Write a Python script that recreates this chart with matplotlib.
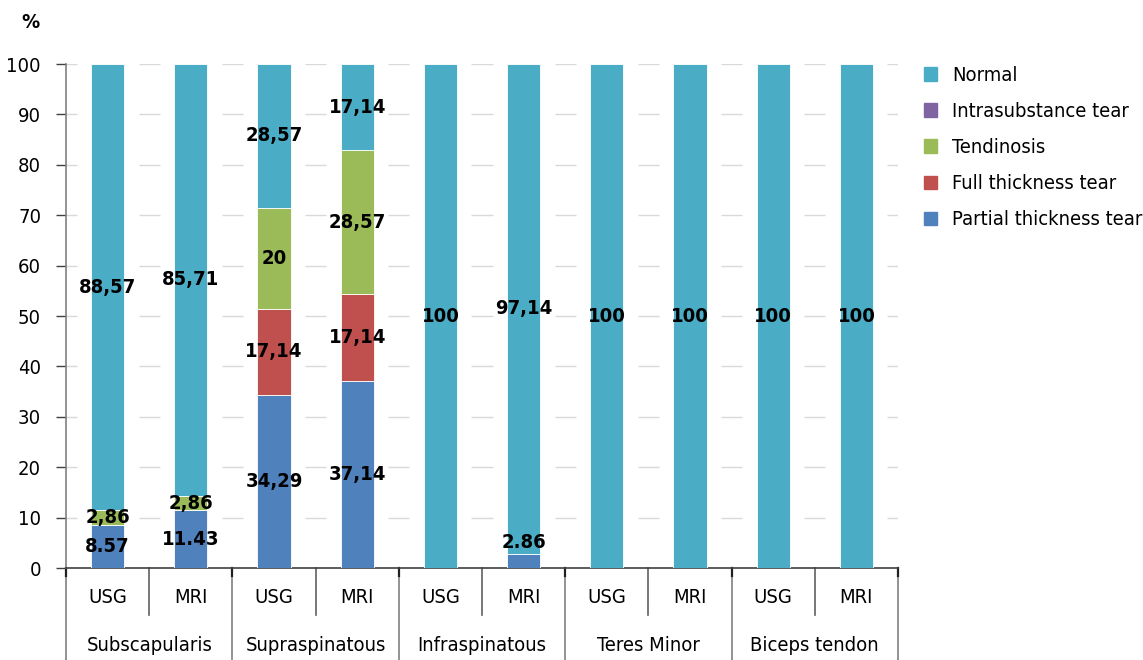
import matplotlib
matplotlib.use("Agg")
import matplotlib.pyplot as plt
from matplotlib.lines import Line2D
from matplotlib.patches import Patch
import numpy as np

plt.rcParams['font.family'] = ['DejaVu Sans']
plt.rcParams['font.stretch'] = 'condensed'

groups = ["Subscapularis", "Supraspinatous", "Infraspinatous", "Teres Minor", "Biceps tendon"]
methods = ["USG", "MRI"]
series = ["Partial thickness tear", "Full thickness tear", "Tendinosis", "Intrasubstance tear", "Normal"]
colors = ["#4F81BD", "#C0504D", "#9BBB59", "#8064A2", "#4BACC6"]

partial = [8.57, 11.43, 34.29, 37.14, 0, 2.86, 0, 0, 0, 0]
full = [0, 0, 17.14, 17.14, 0, 0, 0, 0, 0, 0]
tendinosis = [2.86, 2.86, 20, 28.57, 0, 0, 0, 0, 0, 0]
intrasub = [0, 0, 0, 0, 0, 0, 0, 0, 0, 0]
normal = [88.57, 85.71, 28.57, 17.14, 100, 97.14, 100, 100, 100, 100]

partial_lbl = ["8.57", "11.43", "34,29", "37,14", "", "2.86", "", "", "", ""]
full_lbl = ["", "", "17,14", "17,14", "", "", "", "", "", ""]
tend_lbl = ["2,86", "2,86", "20", "28,57", "", "", "", "", "", ""]
normal_lbl = ["88,57", "85,71", "28,57", "17,14", "100", "97,14", "100", "100", "100", "100"]

yticks = [0, 10, 20, 30, 40, 50, 60, 70, 80, 90, 100]

data = [partial, full, tendinosis, intrasub, normal]
labels = [partial_lbl, full_lbl, tend_lbl, [""] * 10, normal_lbl]

fig = plt.figure(figsize=(11.43, 6.6), dpi=100)
ax = fig.add_axes([66 / 1143, 92 / 660, 832 / 1143, 504 / 660])

n = len(groups) * len(methods)
x = np.arange(n)
bw = 0.4
bottom = np.zeros(n)
FS = 14.5
for vals, col, name, lbls in zip(data, colors, series, labels):
    vals = np.array(vals, dtype=float)
    ax.bar(x, vals, bw, bottom=bottom, color=col, label=name, zorder=3,
           edgecolor="white", linewidth=0.6)
    for i, (v, l) in enumerate(zip(vals, lbls)):
        if not l:
            continue
        if v < 5 and bottom[i] == 0:
            ax.annotate(l, (x[i], bottom[i] + v), xytext=(0, 1), textcoords="offset points",
                        ha="center", va="bottom", fontsize=FS, fontweight="bold", zorder=5)
        else:
            ax.text(x[i], bottom[i] + v / 2, l, ha="center", va="center",
                    fontsize=FS, fontweight="bold", zorder=5)
    bottom += vals

ax.set_xlim(-0.5, n - 0.5)
ax.set_ylim(0, 100)

# broken gridlines between bars
half = 0.127
for yv in yticks[1:]:
    for b in np.arange(-0.5, n, 1.0):
        x0 = max(b - half, -0.5)
        x1 = min(b + half, n - 0.5)
        ax.plot([x0, x1], [yv, yv], color="#d9d9d9", lw=1.0, zorder=1, solid_capstyle="butt")

ax.set_yticks(yticks)
ax.set_yticklabels([str(t) for t in yticks], fontsize=FS)
ax.tick_params(axis="y", length=7, width=1, color="#404040", pad=11)
ax.set_xticks([])
for s in ["top", "right"]:
    ax.spines[s].set_visible(False)
ax.spines["left"].set_color("#808080")
ax.spines["bottom"].set_color("#404040")
ax.spines["left"].set_linewidth(1.2)
ax.spines["bottom"].set_linewidth(1.2)

trans = ax.get_xaxis_transform()
for i in range(n):
    ax.text(x[i], -0.0595, methods[i % 2], transform=trans, ha="center", va="center",
            fontsize=FS, clip_on=False)
for g, name in enumerate(groups):
    ax.text(2 * g + 0.5, -0.1528, name, transform=trans, ha="center", va="center",
            fontsize=FS, clip_on=False)
for k, b in enumerate(np.arange(-0.5, n, 1.0)):
    if k % 2 == 0:
        ax.add_line(Line2D([b, b], [0, -0.19], transform=trans, color="#808080", lw=1.2, clip_on=False))
        ax.add_line(Line2D([b, b], [0, -0.015], transform=trans, color="#202020", lw=1.6, clip_on=False))
    else:
        ax.add_line(Line2D([b, b], [0, -0.093], transform=trans, color="#606060", lw=1.2, clip_on=False))

fig.text(30 / 1143, 1 - 23 / 660, "%", ha="center", va="center", fontsize=FS, fontweight="bold")

handles = [Patch(color=c) for c in colors][::-1]
fig.legend(handles, series[::-1], loc="upper left", bbox_to_anchor=(924 / 1143, 1 - 66 / 660),
           frameon=False, fontsize=FS, handlelength=0.65, handleheight=0.65,
           handletextpad=0.75, labelspacing=0.85, borderaxespad=0, borderpad=0)

fig.savefig("out.png", dpi=100)
